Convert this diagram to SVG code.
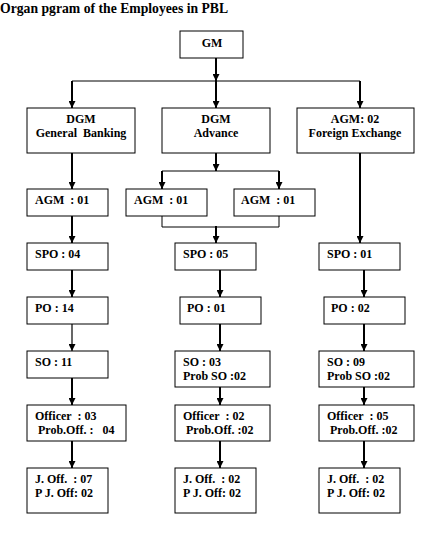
<svg xmlns="http://www.w3.org/2000/svg" width="432" height="552" viewBox="0 0 432 552">
<style>
rect{fill:#fff;stroke:#000;stroke-width:1}
text{font-family:"Liberation Serif","Times New Roman",serif;font-weight:bold;font-size:12px;fill:#000}
.c{text-anchor:middle}
.t{font-size:13.7px}
.a{stroke:#000;stroke-width:2;fill:none;marker-end:url(#ah)}
.a1{stroke:#000;stroke-width:1.2;fill:none;marker-end:url(#ah)}
.l{stroke:#000;stroke-width:1;fill:none}
</style>
<defs>
<marker id="ah" markerUnits="userSpaceOnUse" markerWidth="7" markerHeight="7" refX="7" refY="3.5" orient="auto" viewBox="0 0 7 7">
<path d="M0,0 L7,3.5 L0,7 Z" fill="#000"/>
</marker>
</defs>
<rect width="432" height="552" style="fill:#fff;stroke:none"/>
<text class="t" x="0" y="13">Organ pgram of the Employees in PBL</text>
<g id="connectors">
<path class="a" d="M216,58 V81"/>
<path class="l" d="M72,81 H360"/>
<path class="a" d="M216,81 V108"/>
<path class="a" d="M72,81 V108"/>
<path class="a" d="M360,81 V108"/>
<path class="a" d="M72,153 V189"/>
<path class="a" d="M216,153 V171"/>
<path class="l" d="M162,171 H279"/>
<path class="a" d="M162,171 V189"/>
<path class="a" d="M279,171 V189"/>
<path class="l" d="M162,216 V227 H279 V216"/>
<path class="a" d="M216,226 V243"/>
<path class="a" d="M360,153 V243"/>
<path class="a" d="M72,216 V243"/>
<path class="a" d="M72,270 V297"/>
<path class="a" d="M220,270 V297"/>
<path class="a" d="M364,270 V297"/>
<path class="a1" d="M72,324 V351"/>
<path class="a" d="M220,324 V351"/>
<path class="a" d="M364,324 V351"/>
<path class="a" d="M72,378 V405"/>
<path class="a" d="M220,378 V405"/>
<path class="a" d="M364,378 V405"/>
<path class="a" d="M72,441 V468"/>
<path class="a" d="M220,441 V468"/>
<path class="a" d="M364,441 V468"/>
</g>
<g id="gm"><rect x="180" y="31" width="63" height="27"/><text class="c" x="212" y="47">GM</text></g>
<g id="dgm-gb"><rect x="27" y="108" width="108" height="45"/><text class="c" x="81" y="123">DGM</text><text class="c" x="81" y="137" xml:space="preserve">General  Banking</text></g>
<g id="dgm-adv"><rect x="162" y="108" width="108" height="45"/><text class="c" x="216" y="123">DGM</text><text class="c" x="216" y="137">Advance</text></g>
<g id="agm-fx"><rect x="297" y="108" width="117" height="45"/><text class="c" x="355" y="123">AGM: 02</text><text class="c" x="355" y="137">Foreign Exchange</text></g>
<g id="agm1"><rect x="27" y="189" width="81" height="27"/><text x="35" y="204" xml:space="preserve">AGM  : 01</text></g>
<g id="agm2a"><rect x="126" y="189" width="81" height="27"/><text x="134" y="204" xml:space="preserve">AGM  : 01</text></g>
<g id="agm2b"><rect x="234" y="189" width="81" height="27"/><text x="241" y="204" xml:space="preserve">AGM  : 01</text></g>
<g id="spo1"><rect x="27" y="243" width="81" height="27"/><text x="35" y="258">SPO : 04</text></g>
<g id="spo2"><rect x="175" y="243" width="81" height="27"/><text x="183" y="258">SPO : 05</text></g>
<g id="spo3"><rect x="319" y="243" width="81" height="27"/><text x="327" y="258">SPO : 01</text></g>
<g id="po1"><rect x="27" y="297" width="81" height="27"/><text x="35" y="312">PO : 14</text></g>
<g id="po2"><rect x="180" y="297" width="81" height="27"/><text x="187" y="312">PO : 01</text></g>
<g id="po3"><rect x="324" y="297" width="81" height="27"/><text x="331" y="312">PO : 02</text></g>
<g id="so1"><rect x="27" y="351" width="81" height="27"/><text x="35" y="366">SO : 11</text></g>
<g id="so2"><rect x="175" y="351" width="95" height="36"/><text x="183" y="366">SO : 03</text><text x="183" y="380">Prob SO :02</text></g>
<g id="so3"><rect x="319" y="351" width="95" height="36"/><text x="327" y="366">SO : 09</text><text x="327" y="380">Prob SO :02</text></g>
<g id="off1"><rect x="27" y="405" width="99" height="36"/><text x="35" y="420" xml:space="preserve">Officer  : 03</text><text x="38" y="434" xml:space="preserve">Prob.Off. :   04</text></g>
<g id="off2"><rect x="175" y="405" width="95" height="36"/><text x="183" y="420" xml:space="preserve">Officer  : 02</text><text x="186" y="434">Prob.Off. :02</text></g>
<g id="off3"><rect x="319" y="405" width="95" height="36"/><text x="327" y="420" xml:space="preserve">Officer  : 05</text><text x="330" y="434">Prob.Off. :02</text></g>
<g id="joff1"><rect x="27" y="468" width="81" height="45"/><text x="35" y="483" xml:space="preserve">J. Off.  : 07</text><text x="35" y="497">P J. Off: 02</text></g>
<g id="joff2"><rect x="175" y="468" width="81" height="45"/><text x="183" y="483" xml:space="preserve">J. Off.  : 02</text><text x="183" y="497">P J. Off: 02</text></g>
<g id="joff3"><rect x="319" y="468" width="81" height="45"/><text x="327" y="483" xml:space="preserve">J. Off.  : 02</text><text x="327" y="497">P J. Off: 02</text></g>
</svg>
